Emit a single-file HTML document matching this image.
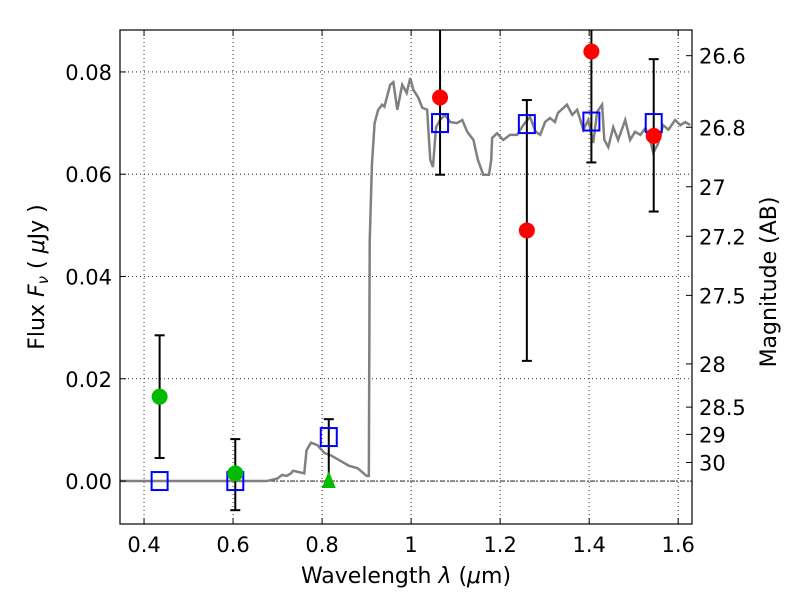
<!DOCTYPE html>
<html><head><meta charset="utf-8"><style>body{margin:0;background:#fff}svg{display:block}text{font-family:"DejaVu Sans","Liberation Sans",sans-serif;fill:#000}</style></head>
<body>
<svg id="chart" width="800" height="600">
<rect x="0" y="0" width="800" height="600" fill="#fff"/>
<g id="grid"></g><g id="spec"></g><g id="marks"></g><g id="axes"></g>
</svg>
<script>
const xTicks=[0.4,0.6,0.8,1,1.2,1.4,1.6];
const xTickLabels=["0.4","0.6","0.8","1","1.2","1.4","1.6"];
const yTicks=[0,0.02,0.04,0.06,0.08];
const yTickLabels=["0.00","0.02","0.04","0.06","0.08"];
const magTicks=[26.6,26.8,27,27.2,27.5,28,28.5,29,30];
const magLabels=["26.6","26.8","27","27.2","27.5","28","28.5","29","30"];
const specWave=[0.346,0.676,0.70,0.71,0.72,0.73,0.735,0.76,0.765,0.775,0.79,0.805,0.82,0.84,0.86,0.88,0.90,0.905,0.907,0.912,0.918,0.926,0.935,0.94,0.953,0.96,0.969,0.98,0.99,0.998,1.005,1.016,1.025,1.036,1.043,1.049,1.056,1.065,1.076,1.088,1.103,1.115,1.126,1.14,1.15,1.162,1.175,1.18,1.182,1.193,1.207,1.222,1.238,1.252,1.267,1.28,1.29,1.301,1.312,1.323,1.33,1.35,1.362,1.373,1.387,1.398,1.409,1.418,1.429,1.434,1.443,1.454,1.465,1.481,1.492,1.503,1.515,1.526,1.537,1.544,1.555,1.566,1.578,1.593,1.605,1.616,1.627];
const specFlux=[0,0,0.0005,0.0012,0.001,0.0015,0.002,0.0015,0.006,0.0075,0.007,0.0055,0.005,0.004,0.003,0.0025,0.001,0.001,0.047,0.062,0.070,0.0726,0.0736,0.0732,0.0775,0.078,0.0726,0.0775,0.0759,0.0788,0.0765,0.075,0.073,0.0726,0.0628,0.0614,0.0692,0.0706,0.0716,0.0702,0.07,0.0706,0.0683,0.0667,0.0628,0.0599,0.0599,0.0628,0.0671,0.068,0.0667,0.0677,0.0677,0.0696,0.0712,0.0683,0.0677,0.0702,0.071,0.0702,0.072,0.0736,0.0716,0.0726,0.0687,0.0706,0.0661,0.0722,0.0736,0.0667,0.0653,0.0692,0.0667,0.0706,0.0667,0.0683,0.0677,0.069,0.0667,0.0642,0.066,0.0696,0.0687,0.0706,0.0696,0.0702,0.0696];
const obsWave=[0.435,0.605,1.065,1.26,1.405,1.545];
const obsFlux=[0.0165,0.0015,0.075,0.049,0.084,0.0675];
const obsColor=["#00bb00","#00bb00","red","red","red","red"];
const errWave=[0.435,0.605,0.815,1.065,1.26,1.405,1.545];
const errLow=[0.0045,-0.0057,0,0.0599,0.0235,0.0623,0.0527];
const errHigh=[0.0285,0.0082,0.0121,0.095,0.0745,0.095,0.0825];
const modWave=[0.435,0.605,0.815,1.065,1.26,1.405,1.545];
const modFlux=[0,0,0.0086,0.070,0.0698,0.0703,0.0700];
const limWave=[0.815];
const limFlux=[0];

const L=120,R=692,T=30,B=524,x0=0.346,x1=1.631,y0=-0.0084,y1=0.0882;
const X=v=>L+(v-x0)/(x1-x0)*(R-L);
const Y=v=>B-(v-y0)/(y1-y0)*(B-T);
const NS="http://www.w3.org/2000/svg";
function mk(tag,attrs,parent){const e=document.createElementNS(NS,tag);for(const k in attrs)e.setAttribute(k,attrs[k]);parent.appendChild(e);return e;}
const grid=document.getElementById('grid'),spec=document.getElementById('spec'),marks=document.getElementById('marks'),axes=document.getElementById('axes');
const clip=mk('clipPath',{id:'pc'},document.getElementById('chart'));mk('rect',{x:L,y:T,width:R-L,height:B-T},clip);
marks.setAttribute('clip-path','url(#pc)');spec.setAttribute('clip-path','url(#pc)');
xTicks.forEach((v,i)=>{
 const g=mk('line',{x1:X(v),x2:X(v),y1:T,y2:B,stroke:'#000','stroke-width':0.8,'stroke-dasharray':'1,3'},grid);
 
 mk('line',{x1:X(v),x2:X(v),y1:B,y2:B-6,stroke:'#000'},axes);
 mk('line',{x1:X(v),x2:X(v),y1:T,y2:T+6,stroke:'#000'},axes);
 const t=mk('text',{x:X(v),y:B+28,'text-anchor':'middle','font-size':21},axes);t.textContent=xTickLabels[i];
 
});
yTicks.forEach((v,i)=>{
 const g=mk('line',{x1:L,x2:R,y1:Y(v),y2:Y(v),stroke:'#000','stroke-width':0.8,'stroke-dasharray':'1,3'},grid);
 
 mk('line',{x1:L,x2:L+6,y1:Y(v),y2:Y(v),stroke:'#000'},axes);
 const t=mk('text',{x:L-8,y:Y(v)+8,'text-anchor':'end','font-size':21},axes);t.textContent=yTickLabels[i];
 
});
const zl=mk('line',{x1:L,x2:R,y1:Y(0),y2:Y(0),stroke:'#000','stroke-width':0.8,'stroke-dasharray':'5,2,1,2'},grid);

magTicks.forEach((m,i)=>{
 const f=Math.pow(10,(23.9-m)/2.5);const y=Y(f);
 mk('line',{x1:R,x2:R-6,y1:y,y2:y,stroke:'#000'},axes);
 const t=mk('text',{x:R+7,y:y+8,'font-size':21},axes);t.textContent=magLabels[i];
 
});
const pl=mk('polyline',{points:specWave.map((w,i)=>X(w)+','+Y(specFlux[i])).join(' '),fill:'none',stroke:'#808080','stroke-width':2.5},spec);

errWave.forEach((w,i)=>{
 const x=X(w);
 const e=mk('line',{x1:x,x2:x,y1:Y(errLow[i]),y2:Y(errHigh[i]),stroke:'#000','stroke-width':2},marks);
 
 mk('line',{x1:x-5,x2:x+5,y1:Y(errHigh[i]),y2:Y(errHigh[i]),stroke:'#000','stroke-width':2},marks);
 if(i!==2)mk('line',{x1:x-5,x2:x+5,y1:Y(errLow[i]),y2:Y(errLow[i]),stroke:'#000','stroke-width':2},marks);
});
modWave.forEach((w,i)=>{
 const r=mk('rect',{x:X(w)-8,y:Y(modFlux[i])-9,width:16,height:18,fill:'none',stroke:'#0000ff','stroke-width':2},marks);
 
});
obsWave.forEach((w,i)=>{
 const c=mk('circle',{cx:X(w),cy:Y(obsFlux[i]),r:8,fill:obsColor[i]},marks);
 
});
limWave.forEach((w,i)=>{
 const x=X(w),y=Y(limFlux[i]);
 const p=mk('polygon',{points:`${x},${y-10} ${x-7},${y+7} ${x+7},${y+7}`,fill:'#00bb00'},marks);
 
});
const fr=mk('rect',{x:L,y:T,width:R-L,height:B-T,fill:'none',stroke:'#000','stroke-width':1.2},axes);

</script>
<svg style="position:absolute;left:0;top:0" width="800" height="600">
<text x="406" y="583" text-anchor="middle" font-size="22">Wavelength  <tspan font-style="italic">λ</tspan> (<tspan font-style="italic">μ</tspan>m)</text>
<text transform="translate(44,277) rotate(-90)" text-anchor="middle" font-size="22">Flux  <tspan font-style="italic">F</tspan><tspan font-style="italic" font-size="15" dy="4">ν</tspan><tspan dy="-4">  ( </tspan><tspan font-style="italic">μ</tspan>Jy )</text>
<text transform="translate(776,282) rotate(-90)" text-anchor="middle" font-size="22">Magnitude (AB)</text>
</svg>
</body></html>
